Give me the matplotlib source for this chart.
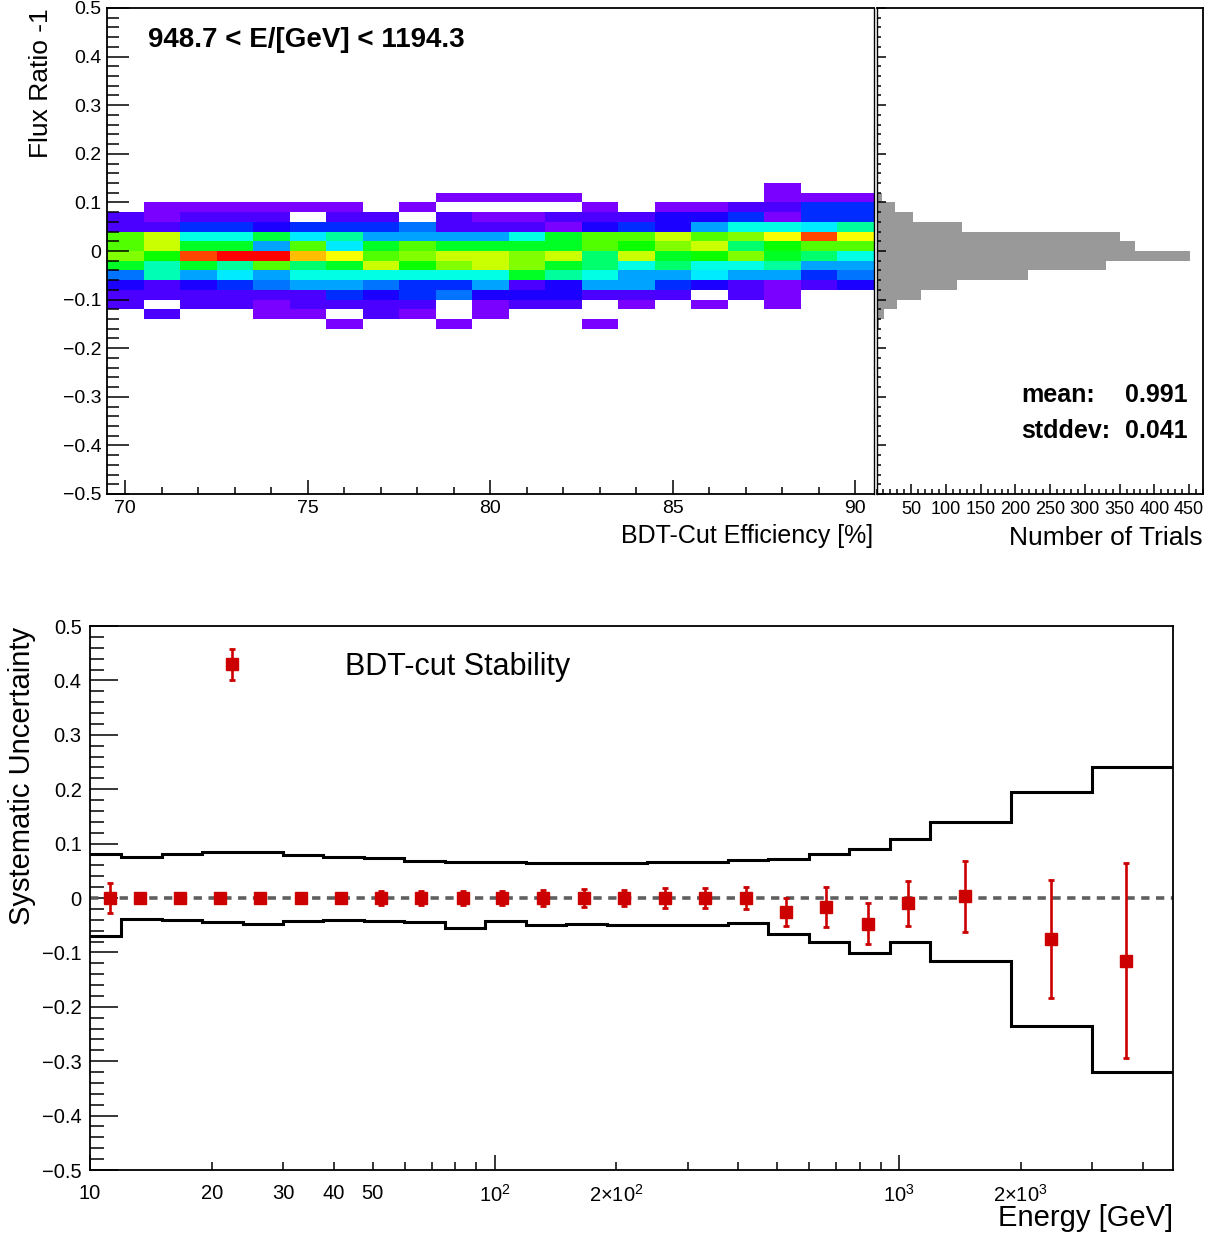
import colorsys

import matplotlib
matplotlib.use('Agg')
import matplotlib.pyplot as plt
import numpy as np
from matplotlib.colors import ListedColormap, Normalize
from matplotlib.ticker import MultipleLocator, FixedLocator, FixedFormatter, FuncFormatter

plt.rcParams['font.family'] = ['Liberation Sans', 'DejaVu Sans']
plt.rcParams['mathtext.fontset'] = 'custom'
plt.rcParams['mathtext.rm'] = 'Liberation Sans'
plt.rcParams['mathtext.default'] = 'regular'

# ---- top panel: flux ratio -1 vs BDT-cut efficiency (counts per cell) ----
eff_values = np.arange(70, 91)                    # bin centres [%]
ratio_edges = np.round(np.arange(-0.16, 0.141, 0.02), 2)
# rows from top (0.12..0.14) down to bottom (-0.16..-0.14), columns 70..90
counts = [
    [0, 0, 0, 0, 0, 0, 0, 0, 0, 0, 0, 0, 0, 0, 0, 0, 0, 0, 1, 0, 0],
    [0, 0, 0, 0, 0, 0, 0, 0, 0, 1, 1, 1, 1, 0, 0, 0, 0, 0, 1, 1, 1],
    [0, 1, 1, 1, 1, 1, 1, 0, 1, 0, 0, 0, 0, 1, 0, 1, 1, 2, 2, 5, 5],
    [2, 1, 2, 2, 2, 0, 2, 2, 0, 2, 1, 1, 2, 2, 2, 3, 3, 5, 1, 5, 5],
    [2, 2, 5, 5, 3, 5, 5, 5, 7, 2, 2, 2, 1, 3, 5, 3, 8, 11, 11, 10, 13],
    [19, 22, 11, 11, 15, 10, 13, 8, 8, 8, 8, 11, 16, 19, 19, 22, 19, 20, 23, 28, 23],
    [19, 22, 16, 16, 8, 19, 10, 16, 19, 16, 16, 16, 16, 19, 17, 20, 22, 14, 17, 19, 19],
    [20, 17, 28, 30, 30, 25, 23, 19, 20, 22, 22, 20, 22, 14, 22, 16, 17, 20, 16, 14, 11],
    [16, 12, 16, 13, 19, 14, 16, 22, 17, 20, 22, 20, 16, 14, 11, 14, 11, 11, 13, 8, 8],
    [7, 12, 8, 10, 8, 11, 11, 11, 11, 11, 11, 16, 13, 11, 8, 8, 10, 8, 8, 5, 7],
    [3, 2, 3, 5, 7, 8, 8, 7, 5, 5, 8, 2, 3, 8, 8, 5, 3, 2, 1, 2, 3],
    [2, 2, 2, 2, 2, 2, 5, 3, 5, 7, 3, 3, 3, 2, 2, 2, 0, 2, 1, 0, 0],
    [2, 0, 2, 2, 1, 2, 2, 2, 2, 0, 1, 2, 2, 0, 1, 0, 1, 0, 1, 0, 0],
    [0, 2, 0, 0, 1, 1, 0, 2, 1, 0, 1, 0, 0, 0, 0, 0, 0, 0, 0, 0, 0],
    [0, 0, 0, 0, 0, 0, 1, 0, 0, 1, 0, 0, 0, 1, 0, 0, 0, 0, 0, 0, 0],
]
# projection: number of trials per ratio bin, same row order (top -> bottom)
trials = [1, 8, 27, 53, 123, 351, 372, 451, 331, 218, 116, 64, 29, 11, 4]
mean_text = '0.991'
std_text = '0.041'

# ---- bottom panel: systematic uncertainty vs energy ----
energy_edges = [9.487, 11.94, 15.04, 18.93, 23.83, 30.0, 37.77, 47.55, 59.86, 75.36,
                94.87, 119.4, 150.4, 189.3, 238.3, 300.0, 377.7, 475.5, 598.6, 753.6,
                948.7, 1194.3, 1893.0, 3000.0, 4755.0]
band_upper = [0.081, 0.075, 0.080, 0.0845, 0.0845, 0.079, 0.076, 0.073, 0.0686, 0.0668,
              0.0655, 0.065, 0.0637, 0.0637, 0.0655, 0.0655, 0.0699, 0.071, 0.080, 0.0895,
              0.108, 0.140, 0.194, 0.241]
band_lower = [-0.070, -0.039, -0.0404, -0.044, -0.0484, -0.042, -0.0404, -0.042, -0.0447, -0.0545,
              -0.042, -0.0496, -0.0484, -0.0496, -0.0496, -0.0496, -0.0466, -0.0668, -0.080, -0.1005,
              -0.080, -0.116, -0.235, -0.319]
energy_pts = [11.2, 13.3, 16.7, 21.0, 26.3, 33.2, 41.8, 52.5, 65.9, 83.4, 104.6, 131.4,
              166.7, 208.7, 263.6, 331.5, 418, 525.6, 659.5, 838.5, 1050, 1455, 2369, 3631]
stability = [0, 0, 0, 0, 0, 0, 0, 0, 0, 0, 0, 0, 0, 0, 0, 0, 0,
             -0.026, -0.017, -0.047, -0.010, 0.003, -0.075, -0.115]
stability_err = [0.028, 0.004, 0.004, 0.010, 0.004, 0.010, 0.004, 0.012, 0.012, 0.012, 0.013, 0.014,
                 0.016, 0.015, 0.018, 0.019, 0.020, 0.026, 0.037, 0.038, 0.042, 0.065, 0.108, 0.179]

# ROOT "pretty" palette: 50 colours, hue 280 -> 0
palette = ListedColormap([colorsys.hls_to_rgb((280 - (i + 1) * 5.6) / 360, 0.5, 1.0) for i in range(50)])

W, H = 1213, 1238
fig = plt.figure(figsize=(W / 100, H / 100), dpi=100)


def box(l, t, r, b):
    return [l / W, 1 - b / H, (r - l) / W, (b - t) / H]


ax1 = fig.add_axes(box(107, 8, 873.5, 494))
ax2 = fig.add_axes(box(876.5, 8, 1203, 494))
ax3 = fig.add_axes(box(90, 626, 1173, 1170))

fmt_ratio = FuncFormatter(lambda v, _: '0' if abs(v) < 1e-9 else ('%.1f' % v).replace('-', '\u2212'))

# heat map
eff_edges = np.append(eff_values - 0.5, eff_values[-1] + 0.5)
z = np.ma.masked_equal(np.array(counts)[::-1], 0)
ax1.pcolormesh(eff_edges, ratio_edges, z, cmap=palette, norm=Normalize(0, 30),
               antialiased=False, edgecolors='face', linewidth=0)
ax1.set_xlim(69.5, 90.5)
ax1.set_ylim(-0.5, 0.5)
ax1.xaxis.set_major_locator(MultipleLocator(5))
ax1.xaxis.set_minor_locator(MultipleLocator(1))
ax1.yaxis.set_major_locator(MultipleLocator(0.1))
ax1.yaxis.set_minor_locator(MultipleLocator(0.02))
ax1.yaxis.set_major_formatter(fmt_ratio)
ax1.tick_params(which='both', direction='in', top=False, right=False, labelsize=14, width=1.1)
ax1.tick_params(axis='y', which='major', length=16, pad=4)
ax1.tick_params(axis='y', which='minor', length=8.5)
ax1.tick_params(axis='x', which='major', length=10, pad=4)
ax1.tick_params(axis='x', which='minor', length=5)

# projection
centers = (ratio_edges[:-1] + ratio_edges[1:]) / 2
ax2.barh(centers, trials[::-1], height=0.02, color='#999999', linewidth=0)
ax2.set_xlim(0, 470)
ax2.set_ylim(-0.5, 0.5)
ax2.set_xticks(np.arange(50, 451, 50))
ax2.xaxis.set_minor_locator(MultipleLocator(10))
ax2.yaxis.set_major_locator(MultipleLocator(0.1))
ax2.yaxis.set_minor_locator(MultipleLocator(0.02))
ax2.tick_params(which='both', direction='in', top=False, right=False, labelleft=False,
                labelsize=13, width=1.1)
ax2.tick_params(axis='x', which='major', length=7, pad=5)
ax2.tick_params(axis='x', which='minor', length=3.5)
ax2.tick_params(axis='y', which='major', length=6.5)
ax2.tick_params(axis='y', which='minor', length=3)

# systematic uncertainty
ax3.stairs(band_upper, energy_edges, baseline=None, color='k', lw=2.2)
ax3.stairs(band_lower, energy_edges, baseline=None, color='k', lw=2.2)
ax3.axhline(0, color='#5f5f5f', lw=2.6, ls=(0, (2.3, 1.8)), zorder=2)
ax3.errorbar(energy_pts, stability, yerr=stability_err, fmt='s', color='#cc0000', ms=8,
             elinewidth=1.9, capsize=2.2, capthick=2.0, zorder=3, label='BDT-cut Stability')
ax3.set_xscale('log')
ax3.set_xlim(10, 4755)
ax3.set_ylim(-0.5, 0.5)
ax3.xaxis.set_major_locator(FixedLocator([10, 100, 1000]))
ax3.xaxis.set_major_formatter(FixedFormatter(['10', '$10^{2}$', '$10^{3}$']))
minor_pos = [20, 30, 40, 50, 60, 70, 80, 90, 200, 300, 400, 500, 600, 700, 800, 900, 2000, 3000, 4000]
minor_lab = ['20', '30', '40', '50', '', '', '', '', '2\u00d7$10^{2}$', '', '', '', '', '', '', '',
             '2\u00d7$10^{3}$', '', '']
ax3.xaxis.set_minor_locator(FixedLocator(minor_pos))
ax3.xaxis.set_minor_formatter(FixedFormatter(minor_lab))
ax3.yaxis.set_major_locator(MultipleLocator(0.1))
ax3.yaxis.set_minor_locator(MultipleLocator(0.02))
ax3.yaxis.set_major_formatter(fmt_ratio)
ax3.tick_params(which='both', direction='in', top=False, right=False, labelsize=14.5, width=1.1)
ax3.tick_params(axis='y', which='major', length=20, pad=6)
ax3.tick_params(axis='y', which='minor', length=10)
ax3.tick_params(axis='x', which='major', length=11, pad=10)
ax3.tick_params(axis='x', which='minor', length=5.5, pad=10)
ax3.legend(loc='center left', bbox_to_anchor=((201 - 90) / 1083, (1170 - 667) / 544),
           frameon=False, fontsize=22, handlelength=2, handletextpad=2.7,
           borderpad=0, borderaxespad=0)

for ax in (ax1, ax2, ax3):
    for sp in ax.spines.values():
        sp.set_linewidth(1.3)
for sp in (ax1.spines['right'], ax2.spines['left']):
    sp.set_linewidth(1.0)

# labels and annotations
fig.text(148 / W, 1 - 40 / H, '948.7 < E/[GeV] < 1194.3', fontsize=20, fontweight='bold',
         ha='left', va='center')
fig.text(1021 / W, 1 - 395 / H, 'mean:', fontsize=18, fontweight='bold', ha='left', va='center')
fig.text(1188 / W, 1 - 395 / H, mean_text, fontsize=18, fontweight='bold', ha='right', va='center')
fig.text(1021 / W, 1 - 431 / H, 'stddev:', fontsize=18, fontweight='bold', ha='left', va='center')
fig.text(1188 / W, 1 - 431 / H, std_text, fontsize=18, fontweight='bold', ha='right', va='center')
fig.text(41 / W, 1 - 8 / H, 'Flux Ratio -1', fontsize=19, rotation=90, ha='center', va='top')
fig.text(873 / W, 1 - 536 / H, 'BDT-Cut Efficiency [%]', fontsize=18, ha='right', va='center')
fig.text(1203 / W, 1 - 538 / H, 'Number of Trials', fontsize=19, ha='right', va='center')
fig.text(22 / W, 1 - 627 / H, 'Systematic Uncertainty', fontsize=21, rotation=90, ha='center', va='top')
fig.text(1173 / W, 1 - 1218 / H, 'Energy [GeV]', fontsize=21, ha='right', va='center')

fig.savefig('out.png', dpi=100)
